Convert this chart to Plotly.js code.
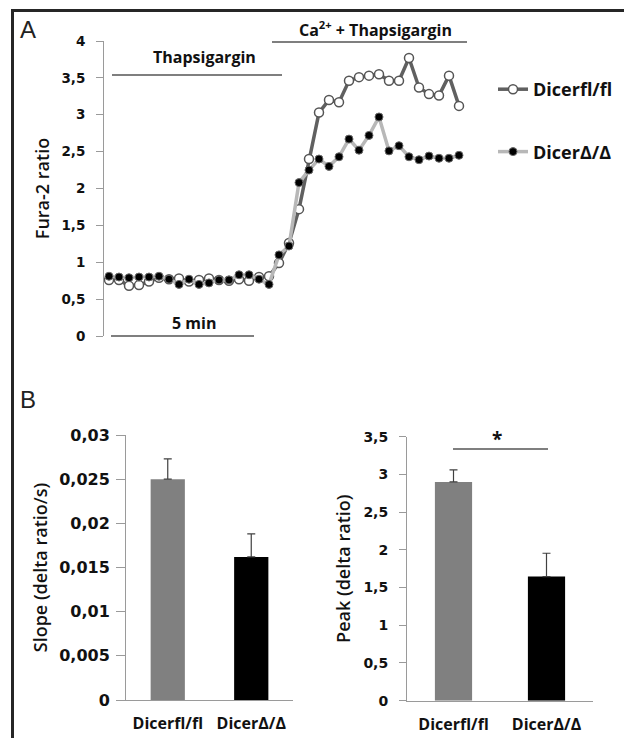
<!DOCTYPE html>
<html><head><meta charset="utf-8">
<script src="https://cdn.plot.ly/plotly-3.0.1.min.js"></script>
<style>html,body{margin:0;padding:0;background:#fff}#chart{width:624px;height:738px}</style>
</head><body><div id="chart"></div>
<script>
// ---------- data ----------
const timePoints = [0,1,2,3,4,5,6,7,8,9,10,11,12,13,14,15,16,17,18,19,20,21,22,23,24,25,26,27,28,29,30,31,32,33,34,35];
const dicerFlFl = [0.76,0.76,0.68,0.69,0.74,0.79,0.77,0.78,0.74,0.76,0.78,0.76,0.75,0.77,0.75,0.80,0.81,0.99,1.26,1.72,2.40,3.03,3.20,3.17,3.46,3.51,3.53,3.55,3.46,3.46,3.77,3.37,3.28,3.26,3.53,3.12];
const dicerDelta = [0.81,0.80,0.79,0.80,0.80,0.81,0.77,0.70,0.77,0.70,0.72,0.76,0.76,0.83,0.83,0.77,0.70,1.10,1.22,2.08,2.25,2.40,2.30,2.43,2.67,2.52,2.72,2.97,2.51,2.58,2.43,2.39,2.44,2.41,2.41,2.45];
const seriesNames = ['Dicerfl/fl', 'DicerΔ/Δ'];
const groups = ['Dicerfl/fl', 'DicerΔ/Δ'];
const slopeMean = [0.0250, 0.0162];
const slopeErrUp = [0.0023, 0.0026];
const slopeErrDown = [0, 0];
const peakMean = [2.90, 1.645];
const peakErrUp = [0.16, 0.31];
const peakErrDown = [0, 0];

// ---------- helpers for layout placement ----------
const W = 624, H = 738;
const px = v => v / W;
const py = v => 1 - v / H;
const WORD = 'Open Sans, sans-serif';
const NUM = 'DejaVu Sans, sans-serif';
const AX = '#9a9a9a';

const traces = [
  {type:'scatter', mode:'lines+markers', x:timePoints, y:dicerFlFl, name:seriesNames[0], legendgroup:'g1',
   xaxis:'x', yaxis:'y', line:{color:'#606060', width:3.5},
   marker:{size:9, color:'#ffffff', line:{color:'#555555', width:1.5}}},
  {type:'scatter', mode:'lines+markers', x:timePoints, y:dicerDelta, name:seriesNames[1], legendgroup:'g2',
   xaxis:'x', yaxis:'y', line:{color:'#b8b8b8', width:3.5},
   marker:{size:8, color:'#000000', line:{color:'#6a6a6a', width:1}}},
  {type:'bar', x:groups, y:slopeMean, xaxis:'x2', yaxis:'y2', showlegend:false, width:0.41,
   marker:{color:['#808080','#000000']},
   error_y:{type:'data', symmetric:false, array:slopeErrUp, arrayminus:slopeErrDown, color:'#404040', thickness:1.2, width:4}},
  {type:'bar', x:groups, y:peakMean, xaxis:'x3', yaxis:'y3', showlegend:false, width:0.40,
   marker:{color:['#808080','#000000']},
   error_y:{type:'data', symmetric:false, array:peakErrUp, arrayminus:peakErrDown, color:'#404040', thickness:1.2, width:4}}
];

const yCommon = {showline:true, linecolor:AX, linewidth:1, ticks:'outside', tickcolor:AX, tickwidth:1,
  showgrid:false, zeroline:false, fixedrange:true};

const titleFont = {family:WORD, size:18, weight:600, color:'#111111'};

const layout = {
  width:W, height:H, margin:{l:0, r:0, t:0, b:0}, autosize:false,
  paper_bgcolor:'#ffffff', plot_bgcolor:'rgba(0,0,0,0)',
  separators:',.',
  font:{family:WORD, color:'#111111'},
  showlegend:true,
  legend:{x:px(493), y:py(71), xanchor:'left', yanchor:'top', bgcolor:'rgba(0,0,0,0)',
    font:{family:WORD, size:18, weight:'bold', color:'#111'}, tracegroupgap:36, traceorder:'grouped'},
  xaxis:{domain:[px(104), px(470)], range:[-0.5, 36.1], visible:false, fixedrange:true},
  yaxis:Object.assign({}, yCommon, {domain:[py(336), py(41)], range:[0,4], dtick:0.5, ticklen:7,
    tickfont:{family:NUM, size:13.5, weight:'bold', color:'#111'}, ticklabelstandoff:8,
    title:{text:'Fura-2 ratio', font:titleFont, standoff:7}}),
  xaxis2:{domain:[px(126), px(293)], anchor:'y2', showline:true, linecolor:AX, linewidth:1, ticks:'',
    showgrid:false, zeroline:false, fixedrange:true, ticklabelstandoff:9,
    tickfont:{family:WORD, size:16, weight:'bold', color:'#111'}},
  yaxis2:Object.assign({}, yCommon, {domain:[py(700), py(435)], anchor:'x2', range:[0,0.03], dtick:0.005, ticklen:9,
    tickfont:{family:NUM, size:16, weight:'bold', color:'#111'}, ticklabelstandoff:3,
    title:{text:'Slope (delta ratio/s)', font:titleFont, standoff:6}}),
  xaxis3:{domain:[px(407), px(593)], anchor:'y3', showline:true, linecolor:AX, linewidth:1, ticks:'',
    showgrid:false, zeroline:false, fixedrange:true, ticklabelstandoff:9,
    tickfont:{family:WORD, size:16, weight:'bold', color:'#111'}},
  yaxis3:Object.assign({}, yCommon, {domain:[py(700.7), py(436.7)], anchor:'x3', range:[0,3.5], dtick:0.5, ticklen:7,
    tickfont:{family:NUM, size:14, weight:'bold', color:'#111'}, ticklabelstandoff:8,
    title:{text:'Peak (delta ratio)', font:titleFont, standoff:8}}),
  shapes:[
    {type:'line', xref:'paper', yref:'paper', x0:px(12.5), x1:px(12.5), y0:py(9), y1:0, line:{color:'#262626', width:3}},
    {type:'line', xref:'paper', yref:'paper', x0:px(11), x1:1, y0:py(10.5), y1:py(10.5), line:{color:'#262626', width:3}},
    {type:'line', xref:'paper', yref:'paper', x0:px(112), x1:px(282), y0:py(75), y1:py(75), line:{color:'#555555', width:1.5}},
    {type:'line', xref:'paper', yref:'paper', x0:px(272), x1:px(467), y0:py(42), y1:py(42), line:{color:'#555555', width:1.5}},
    {type:'line', xref:'paper', yref:'paper', x0:px(111), x1:px(254), y0:py(336), y1:py(336), line:{color:'#555555', width:1.5}},
    {type:'line', xref:'paper', yref:'paper', x0:px(453), x1:px(548), y0:py(449), y1:py(449), line:{color:'#555555', width:1.5}}
  ],
  annotations:[
    {xref:'paper', yref:'paper', x:px(28), y:py(29), text:'A', showarrow:false, xanchor:'center', yanchor:'middle',
     font:{family:'Liberation Sans, Arial, sans-serif', size:24, color:'#222'}},
    {xref:'paper', yref:'paper', x:px(28), y:py(399), text:'B', showarrow:false, xanchor:'center', yanchor:'middle',
     font:{family:'Liberation Sans, Arial, sans-serif', size:24, color:'#222'}},
    {xref:'paper', yref:'paper', x:px(204), y:py(57), text:'Thapsigargin', showarrow:false, xanchor:'center', yanchor:'middle',
     font:{family:WORD, size:16, weight:'bold', color:'#111'}},
    {xref:'paper', yref:'paper', x:px(375), y:py(29), text:'Ca<sup>2+</sup> + Thapsigargin', showarrow:false, xanchor:'center', yanchor:'middle',
     font:{family:WORD, size:16, weight:'bold', color:'#111'}},
    {xref:'paper', yref:'paper', x:px(194), y:py(323), text:'5 min', showarrow:false, xanchor:'center', yanchor:'middle',
     font:{family:WORD, size:16, weight:'bold', color:'#111'}},
    {xref:'paper', yref:'paper', x:px(497), y:py(439), text:'*', showarrow:false, xanchor:'center', yanchor:'middle',
     font:{family:WORD, size:19, weight:'bold', color:'#111'}}
  ]
};

Plotly.newPlot('chart', traces, layout, {staticPlot:true, displayModeBar:false});
</script>
</body></html>
